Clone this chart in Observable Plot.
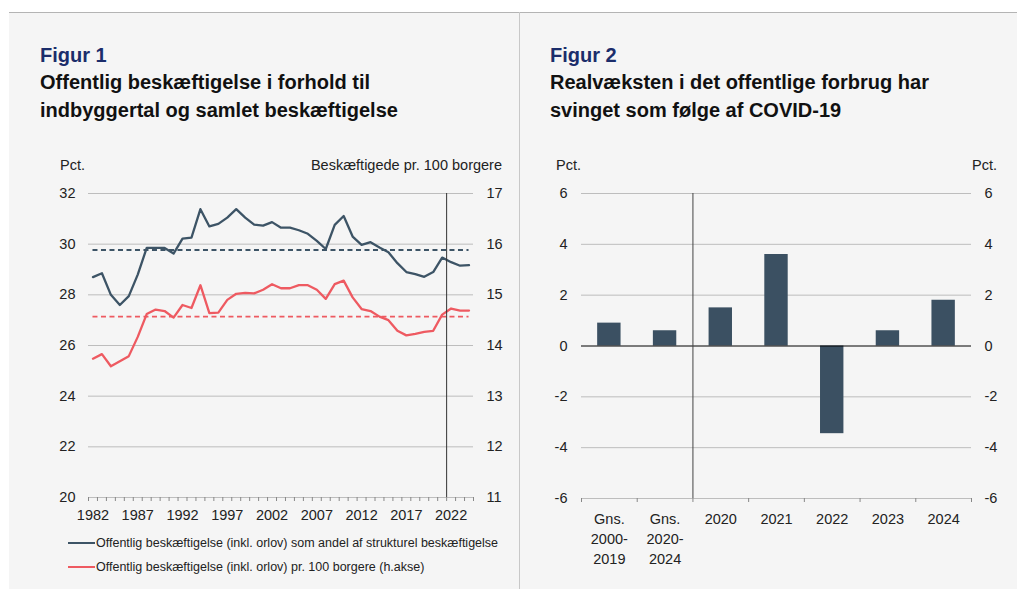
<!DOCTYPE html>
<html><head><meta charset="utf-8">
<script src="https://cdn.jsdelivr.net/npm/d3@7"></script>
<script src="https://cdn.jsdelivr.net/npm/@observablehq/plot@0.6"></script>
<style>
body{margin:0;background:#fff;font-family:"Liberation Sans",Arial,sans-serif;width:1017px;height:589px;position:relative;overflow:hidden}
.panel{position:absolute;left:9px;top:12px;width:1008px;height:577px;background:#f5f5f5;border-top:1px solid #b4b4b4}
.divider{position:absolute;left:519px;top:12px;width:1px;height:577px;background:#c8c8c8}
.fig{position:absolute;font-weight:bold;font-size:20px;color:#1b2d6b;line-height:20px;white-space:nowrap}
.title{position:absolute;font-weight:bold;font-size:20px;color:#111;line-height:28px;white-space:nowrap}
.unit{position:absolute;font-size:14.5px;color:#222;line-height:14.5px;white-space:nowrap}
.leg{position:absolute;left:68px;font-size:12.5px;color:#222;line-height:12.5px;white-space:nowrap}
.leg span.sw{display:inline-block;width:27px;height:0;border-top:2.5px solid;vertical-align:middle;margin-right:1px;position:relative;top:-1px}
.chart{position:absolute}
</style></head>
<body>
<div class="panel"></div>
<div class="divider"></div>
<div class="fig" style="left:40px;top:44.6px">Figur 1</div>
<div class="title" style="left:40px;top:68.4px">Offentlig beskæftigelse i forhold til<br>indbyggertal og samlet beskæftigelse</div>
<div class="fig" style="left:550px;top:44.6px">Figur 2</div>
<div class="title" style="left:550px;top:68.4px">Realvæksten i det offentlige forbrug har<br>svinget som følge af COVID-19</div>
<div class="unit" style="left:60px;top:157.7px">Pct.</div>
<div class="unit" style="right:515px;top:157.7px;text-align:right">Beskæftigede pr. 100 borgere</div>
<div class="unit" style="left:556px;top:157.7px">Pct.</div>
<div class="unit" style="right:20px;top:157.7px;text-align:right">Pct.</div>
<div id="left" class="chart" style="left:0;top:150px"></div>
<div id="right" class="chart" style="left:519px;top:150px"></div>
<div class="leg" style="top:537.4px"><span class="sw" style="border-color:#3d5466"></span>Offentlig beskæftigelse (inkl. orlov) som andel af strukturel beskæftigelse</div>
<div class="leg" style="top:561.4px"><span class="sw" style="border-color:#ee5a61"></span>Offentlig beskæftigelse (inkl. orlov) pr. 100 borgere (h.akse)</div>
<script>
// ---- Figur 1 data ----
const years = [1982,1983,1984,1985,1986,1987,1988,1989,1990,1991,1992,1993,1994,1995,1996,1997,1998,1999,2000,2001,2002,2003,2004,2005,2006,2007,2008,2009,2010,2011,2012,2013,2014,2015,2016,2017,2018,2019,2020,2021,2022,2023,2024];
const shareStructural = [28.7,28.85,28.0,27.6,27.95,28.8,29.85,29.85,29.85,29.63,30.22,30.26,31.38,30.7,30.8,31.05,31.38,31.05,30.77,30.73,30.87,30.65,30.65,30.55,30.41,30.13,29.81,30.76,31.11,30.3,29.97,30.08,29.87,29.68,29.25,28.9,28.82,28.71,28.9,29.47,29.29,29.15,29.17];
const per100Citizens = [13.74,13.83,13.59,13.69,13.79,14.17,14.62,14.71,14.68,14.55,14.8,14.74,15.19,14.64,14.65,14.9,15.02,15.04,15.03,15.1,15.21,15.13,15.13,15.19,15.19,15.1,14.92,15.21,15.28,14.95,14.72,14.68,14.57,14.5,14.29,14.2,14.23,14.27,14.29,14.61,14.73,14.69,14.69];
const shareAvg = 29.77;
const per100Avg = 14.57;
const leftTicks = [20,22,24,26,28,30,32];
const rightAxisDomain = [11,17];
const yearLabels = [1982,1987,1992,1997,2002,2007,2012,2017,2022];
const forecastStart = 2022;

// ---- Figur 2 data ----
const categories = ["Gns.\n2000-\n2019","Gns.\n2020-\n2024","2020","2021","2022","2023","2024"];
const growth = [0.9,0.6,1.5,3.6,-3.45,0.6,1.8];
const growthTicks = [-6,-4,-2,0,2,4,6];
const splitAfter = 2;

const BLUE = "#3d5466", RED = "#ee5a61", BAR = "#3b5062", GRID = "#bdbdbd";
const font = {fontFamily:"'Liberation Sans', Arial, sans-serif", fontSize:"14.5px", background:"transparent", color:"#222", overflow:"visible"};
const plain = d => String(d);

const toLeft = d3.scaleLinear().domain(rightAxisDomain).range([leftTicks[0], leftTicks[leftTicks.length-1]]);
const lineData = years.map((y,i)=>({year:y, a:shareStructural[i], b:per100Citizens[i]}));
const edges = years.map(y=>y-0.5).concat([years[years.length-1]+0.5]);
const avgRows = [
  {y: shareAvg, x1: years[0], x2: years[years.length-1], c: BLUE},
  {y: toLeft(per100Avg), x1: years[0], x2: years[years.length-1], c: RED}
];

const left = Plot.plot({
  width: 519, height: 380,
  marginLeft: 88, marginRight: 46, marginTop: 43, marginBottom: 33,
  style: font,
  x: {type:"linear", domain:[years[0]-0.5, years[years.length-1]+0.5]},
  y: {domain:[leftTicks[0], leftTicks[leftTicks.length-1]]},
  marks: [
    Plot.ruleY(leftTicks, {stroke: GRID, strokeWidth: 1}),
    Plot.ruleY(avgRows, {y:"y", x1:"x1", x2:"x2", stroke: d=>d.c, strokeWidth: 1.8, strokeDasharray:"5,3.5"}),
    Plot.line(lineData, {x:"year", y:"a", stroke: BLUE, strokeWidth: 2.3}),
    Plot.line(lineData, {x:"year", y: d=>toLeft(d.b), stroke: RED, strokeWidth: 2.3}),
    Plot.ruleX([forecastStart-0.5], {stroke:"#333", strokeWidth: 1}),
    Plot.axisY({ticks: leftTicks, tickSize: 0, tickPadding: 13, label: null, tickFormat: plain}),
    Plot.axisY({ticks: leftTicks, anchor:"right", tickSize: 0, tickPadding: 13, label: null, tickFormat: d => String(toLeft.invert(d))}),
    Plot.axisX({ticks: edges, tickSize: 4, tickFormat: ()=>"", stroke:"#888", label: null}),
    Plot.axisX({ticks: yearLabels, tickSize: 0, tickPadding: 12, tickFormat: plain, label: null})
  ]
});
document.getElementById("left").appendChild(left);

const barData = categories.map((c,i)=>({i, c, v: growth[i]}));
const right = Plot.plot({
  width: 498, height: 430,
  marginLeft: 62, marginRight: 46, marginTop: 43, marginBottom: 82,
  style: font,
  x: {type:"linear", domain:[0, categories.length]},
  y: {domain:[growthTicks[0], growthTicks[growthTicks.length-1]]},
  marks: [
    Plot.ruleY(growthTicks.filter(d=>d!==0), {stroke: GRID, strokeWidth: 1}),
    Plot.rectY(barData, {x1: d=>d.i+0.29, x2: d=>d.i+0.71, y:"v", fill: BAR}),
    Plot.ruleY([0], {stroke:"#000", strokeWidth: 1}),
    Plot.ruleX([splitAfter], {stroke:"#444", strokeWidth: 1}),
    Plot.axisY({ticks: growthTicks, tickSize: 0, tickPadding: 14, label: null, tickFormat: plain}),
    Plot.axisY({ticks: growthTicks, anchor:"right", tickSize: 0, tickPadding: 13, label: null, tickFormat: plain}),
    Plot.axisX({ticks: d3.range(0, categories.length+1), tickSize: 4, tickFormat: ()=>"", stroke:"#888", label: null}),
    Plot.axisX({ticks: categories.map((c,i)=>i+0.5), tickSize: 0, tickPadding: 12, lineHeight: 1.35, tickFormat: d=>categories[Math.floor(d)], label: null})
  ]
});
document.getElementById("right").appendChild(right);
</script>
</body></html>
